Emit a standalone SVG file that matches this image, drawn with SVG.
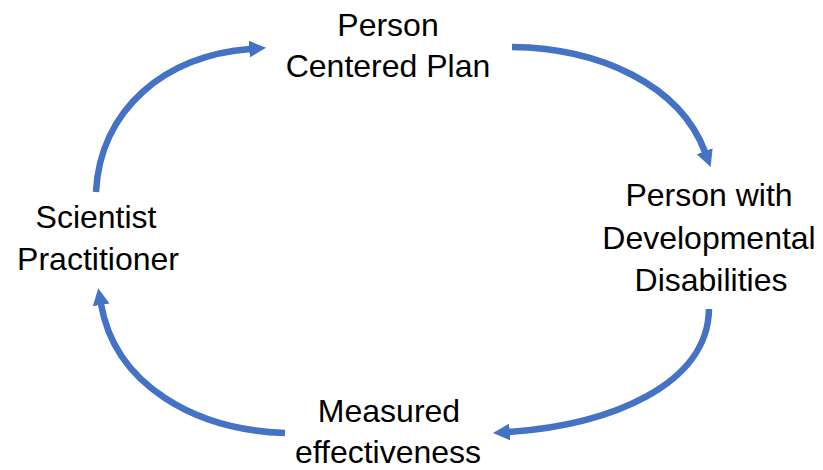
<svg xmlns="http://www.w3.org/2000/svg" width="823" height="470" viewBox="0 0 823 470">
  <style>
    .lbl { font-family: "Liberation Sans", Arial, sans-serif; font-size: 32px; fill: #000; text-anchor: middle; }
    .arc { fill: none; stroke: #4472C4; stroke-width: 6.5; marker-end: url(#ah); }
  </style>
  <defs>
    <marker id="ah" viewBox="0 0 10 10" refX="0.5" refY="5" markerWidth="2.6" markerHeight="2.9" orient="auto" markerUnits="strokeWidth">
      <path d="M0,0 L10,5 L0,10 z" fill="#4472C4"/>
    </marker>
  </defs>
  <rect width="823" height="470" fill="#fff"/>
  <g id="connectors">
    <path class="arc" d="M96,192 C 100,110 165,55 250,49"/>
    <path class="arc" d="M512,47 C 600,48 680,85 705,152"/>
    <path class="arc" d="M709,309 C 708,385 610,425 509,432"/>
    <path class="arc" d="M285,433 C 195,430 115,385 101,304"/>
  </g>
  <g id="plan">
    <text class="lbl" x="388" y="36">Person</text>
    <text class="lbl" x="388" y="77">Centered Plan</text>
  </g>
  <g id="person">
    <text class="lbl" x="709" y="206">Person with</text>
    <text class="lbl" x="709" y="249">Developmental</text>
    <text class="lbl" x="711" y="291">Disabilities</text>
  </g>
  <g id="measured">
    <text class="lbl" x="389" y="422">Measured</text>
    <text class="lbl" x="388" y="463">effectiveness</text>
  </g>
  <g id="scientist">
    <text class="lbl" x="96" y="228">Scientist</text>
    <text class="lbl" x="98" y="270">Practitioner</text>
  </g>
</svg>
